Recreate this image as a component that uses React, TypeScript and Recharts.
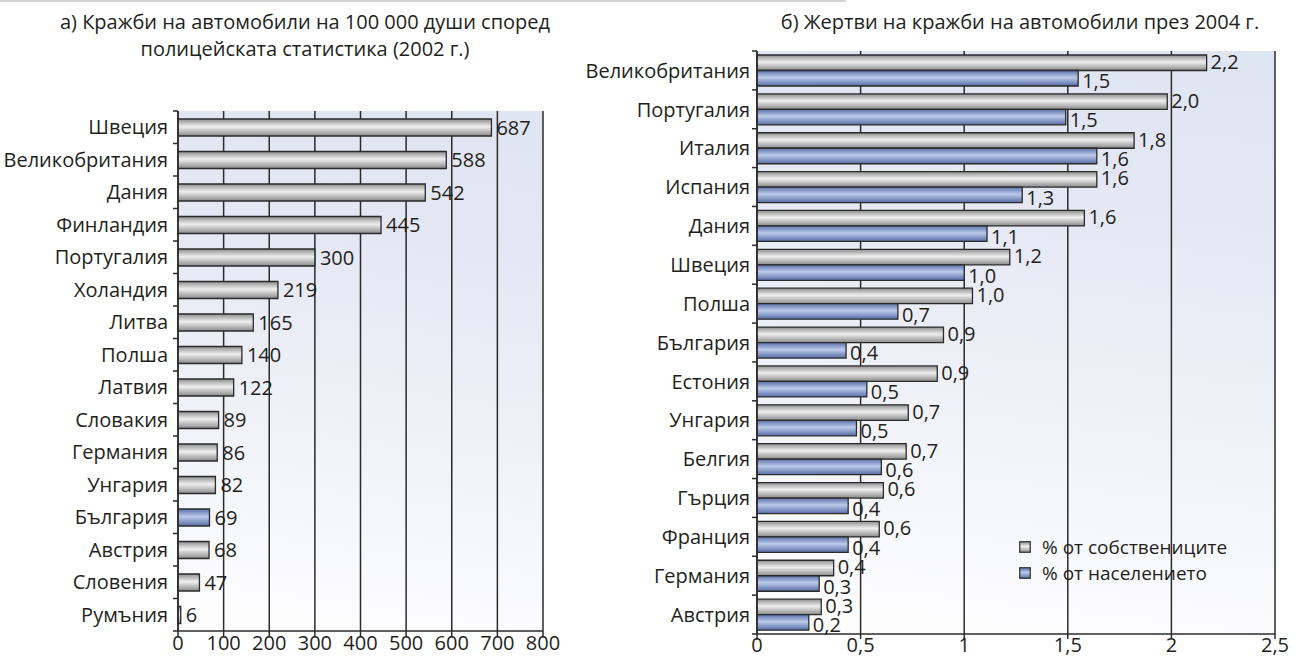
import React from 'react';
import { BarChart, Bar, XAxis, YAxis, CartesianGrid, LabelList, Cell } from 'recharts';

// а) thefts per 100 000 people, police statistics 2002
const theftCountries = [
  'Швеция', 'Великобритания', 'Дания', 'Финландия', 'Португалия', 'Холандия', 'Литва', 'Полша',
  'Латвия', 'Словакия', 'Германия', 'Унгария', 'България', 'Австрия', 'Словения', 'Румъния',
];
const theftRates = [687, 588, 542, 445, 300, 219, 165, 140, 122, 89, 86, 82, 69, 68, 47, 6];
const highlightCountry = 'България';
const theftTicks = [0, 100, 200, 300, 400, 500, 600, 700, 800];

// б) victims of car theft in 2004
const victimCountries = [
  'Великобритания', 'Португалия', 'Италия', 'Испания', 'Дания', 'Швеция', 'Полша', 'България',
  'Естония', 'Унгария', 'Белгия', 'Гърция', 'Франция', 'Германия', 'Австрия',
];
const ownersShare = [2.17, 1.98, 1.82, 1.64, 1.58, 1.22, 1.04, 0.9, 0.87, 0.73, 0.72, 0.61, 0.59, 0.37, 0.31];
const ownersLabels = ['2,2', '2,0', '1,8', '1,6', '1,6', '1,2', '1,0', '0,9', '0,9', '0,7', '0,7', '0,6', '0,6', '0,4', '0,3'];
const populationShare = [1.55, 1.49, 1.64, 1.28, 1.11, 1.0, 0.68, 0.43, 0.53, 0.48, 0.6, 0.44, 0.44, 0.3, 0.25];
const populationLabels = ['1,5', '1,5', '1,6', '1,3', '1,1', '1,0', '0,7', '0,4', '0,5', '0,5', '0,6', '0,4', '0,4', '0,3', '0,2'];
const victimTicks = [0, 0.5, 1, 1.5, 2, 2.5];
const legendItems = [
  { name: '% от собствениците', fill: 'url(#grayLeg)' },
  { name: '% от населението', fill: 'url(#blueLeg)' },
];

const theftData = theftCountries.map((country, i) => ({ country, value: theftRates[i] }));
const victimData = victimCountries.map((country, i) => ({
  country,
  owners: ownersShare[i],
  ownersLabel: ownersLabels[i],
  population: populationShare[i],
  populationLabel: populationLabels[i],
}));

const FONT = '"Open Sans", "Noto Sans", sans-serif';
const INK = '#231f20';
const LINE = '#2b2b2b';
const FS = 20;

const comma = (v: number) => String(v).replace('.', ',');

// layout of the two plot areas
const A = { left: 178, top: 111, bottom: 631, right: 543 };
const B = { left: 757, top: 51, bottom: 634, right: 1275, chartX: 560 };

function Gradients({ prefix }: { prefix: string }) {
  return (
    <defs>
      <linearGradient id={`${prefix}bg`} x1="0.55" y1="0" x2="0.45" y2="1">
        <stop offset="0%" stopColor="#e0e5f2" />
        <stop offset="30%" stopColor="#e6e9f4" />
        <stop offset="100%" stopColor="#fdfdfe" />
      </linearGradient>
      <linearGradient id={`${prefix}gray`} x1="0" y1="0" x2="0" y2="1">
        <stop offset="0%" stopColor="#8e8e8e" />
        <stop offset="45%" stopColor="#efefef" />
        <stop offset="100%" stopColor="#8a8a8a" />
      </linearGradient>
      <linearGradient id={`${prefix}blue`} x1="0" y1="0" x2="0" y2="1">
        <stop offset="0%" stopColor="#5a70aa" />
        <stop offset="45%" stopColor="#bccaea" />
        <stop offset="100%" stopColor="#566ca5" />
      </linearGradient>
    </defs>
  );
}

const tickStyle = { fill: INK, fontSize: FS, fontFamily: FONT };
const labelStyle = { fill: INK, fontSize: FS, fontFamily: FONT };

// category label plus a short tick at the band boundaries, as in the original
function makeCategoryTick(axisX: number, band: number) {
  return function CategoryTick(props: any) {
    const { x, y, payload, index } = props;
    return (
      <g>
        <text x={x} y={y} dy="0.36em" textAnchor="end" style={tickStyle}>
          {payload.value}
        </text>
        {index === 0 && (
          <line x1={axisX - 5} x2={axisX} y1={y - band / 2} y2={y - band / 2} stroke={LINE} strokeWidth={1.5} />
        )}
        <line x1={axisX - 5} x2={axisX} y1={y + band / 2} y2={y + band / 2} stroke={LINE} strokeWidth={1.5} />
      </g>
    );
  };
}

function TheftChart() {
  const band = (A.bottom - A.top) / theftCountries.length;
  return (
    <BarChart
      layout="vertical"
      width={600}
      height={660}
      data={theftData}
      margin={{ top: A.top, right: 600 - A.right, bottom: 0, left: 0 }}
      barSize={17}
    >
      <Gradients prefix="a-" />
      <CartesianGrid horizontal={false} stroke={LINE} strokeWidth={1.5} fill="url(#a-bg)" fillOpacity={1} />
      <XAxis
        type="number"
        domain={[0, 800]}
        ticks={theftTicks}
        height={660 - A.bottom}
        stroke={LINE}
        strokeWidth={1.5}
        tickSize={5}
        tickMargin={0}
        tick={tickStyle}
      />
      <XAxis xAxisId="top" orientation="top" type="number" domain={[0, 800]} height={0} tick={false} tickLine={false} stroke={LINE} strokeWidth={1.5} />
      <YAxis
        type="category"
        dataKey="country"
        width={A.left}
        stroke={LINE}
        strokeWidth={1.5}
        tickLine={false}
        tickMargin={4}
        tick={makeCategoryTick(A.left, band)}
        interval={0}
      />
      <Bar dataKey="value" stroke={LINE} strokeWidth={1.3} isAnimationActive={false}>
        {theftData.map((d) => (
          <Cell key={d.country} fill={d.country === highlightCountry ? 'url(#a-blue)' : 'url(#a-gray)'} />
        ))}
        <LabelList dataKey="value" position="right" offset={5} style={labelStyle} />
      </Bar>
    </BarChart>
  );
}

function VictimChart() {
  const band = (B.bottom - B.top) / victimCountries.length;
  const axisX = B.left - B.chartX;
  return (
    <BarChart
      layout="vertical"
      width={1295 - B.chartX}
      height={660}
      data={victimData}
      margin={{ top: B.top, right: 1295 - B.right, bottom: 0, left: 0 }}
      barSize={15.5}
      barGap={0}
    >
      <Gradients prefix="b-" />
      <CartesianGrid horizontal={false} stroke={LINE} strokeWidth={1.5} fill="url(#b-bg)" fillOpacity={1} />
      <XAxis
        type="number"
        domain={[0, 2.5]}
        ticks={victimTicks}
        height={660 - B.bottom}
        stroke={LINE}
        strokeWidth={1.5}
        tickSize={5}
        tickMargin={-1}
        tick={tickStyle}
        tickFormatter={comma}
      />
      <XAxis xAxisId="top" orientation="top" type="number" domain={[0, 2.5]} height={0} tick={false} tickLine={false} stroke={LINE} strokeWidth={1.5} />
      <YAxis
        type="category"
        dataKey="country"
        width={axisX}
        stroke={LINE}
        strokeWidth={1.5}
        tickLine={false}
        tickMargin={1}
        tick={makeCategoryTick(axisX, band)}
        interval={0}
      />
      <Bar dataKey="owners" fill="url(#b-gray)" stroke={LINE} strokeWidth={1.3} isAnimationActive={false}>
        <LabelList dataKey="ownersLabel" position="right" offset={4} style={labelStyle} dy={-1} />
      </Bar>
      <Bar dataKey="population" fill="url(#b-blue)" stroke={LINE} strokeWidth={1.3} isAnimationActive={false}>
        <LabelList dataKey="populationLabel" position="right" offset={4} style={labelStyle} dy={3} />
      </Bar>
    </BarChart>
  );
}

export default function App() {
  return (
    <div
      style={{
        position: 'absolute',
        left: 0,
        top: 0,
        width: 1295,
        height: 660,
        background: '#fff',
        fontFamily: FONT,
        color: INK,
        overflow: 'hidden',
      }}
    >
      <svg width={0} height={0} style={{ position: 'absolute' }}>
        <defs>
          <linearGradient id="grayLeg" x1="0" y1="0" x2="0" y2="1">
            <stop offset="0%" stopColor="#8e8e8e" />
            <stop offset="45%" stopColor="#efefef" />
            <stop offset="100%" stopColor="#8a8a8a" />
          </linearGradient>
          <linearGradient id="blueLeg" x1="0" y1="0" x2="0" y2="1">
            <stop offset="0%" stopColor="#5a70aa" />
            <stop offset="45%" stopColor="#bccaea" />
            <stop offset="100%" stopColor="#566ca5" />
          </linearGradient>
        </defs>
      </svg>
      <div style={{ position: 'absolute', left: 0, top: 0, width: 846, height: 1.5, background: '#d4d4d4' }} />
      <div
        style={{
          position: 'absolute',
          left: 30,
          top: 8,
          width: 550,
          textAlign: 'center',
          fontSize: 20,
          lineHeight: '27px',
        }}
      >
        а) Кражби на автомобили на 100 000 души според
        <br />
        полицейската статистика (2002 г.)
      </div>
      <div
        style={{
          position: 'absolute',
          left: 750,
          top: 8,
          width: 540,
          textAlign: 'center',
          fontSize: 20,
          lineHeight: '27px',
        }}
      >
        б) Жертви на кражби на автомобили през 2004 г.
      </div>
      <div style={{ position: 'absolute', left: 0, top: 0 }}>
        <TheftChart />
      </div>
      <div style={{ position: 'absolute', left: B.chartX, top: 0 }}>
        <VictimChart />
      </div>
      <div style={{ position: 'absolute', left: 1019, top: 534, fontSize: 19, lineHeight: '26px' }}>
        {legendItems.map((item) => (
          <div key={item.name} style={{ display: 'flex', alignItems: 'center' }}>
            <svg width={12} height={12} style={{ marginRight: 11 }}>
              <rect x={0.75} y={0.75} width={10.5} height={10.5} fill={item.fill} stroke={LINE} strokeWidth={1.2} />
            </svg>
            {item.name}
          </div>
        ))}
      </div>
    </div>
  );
}
